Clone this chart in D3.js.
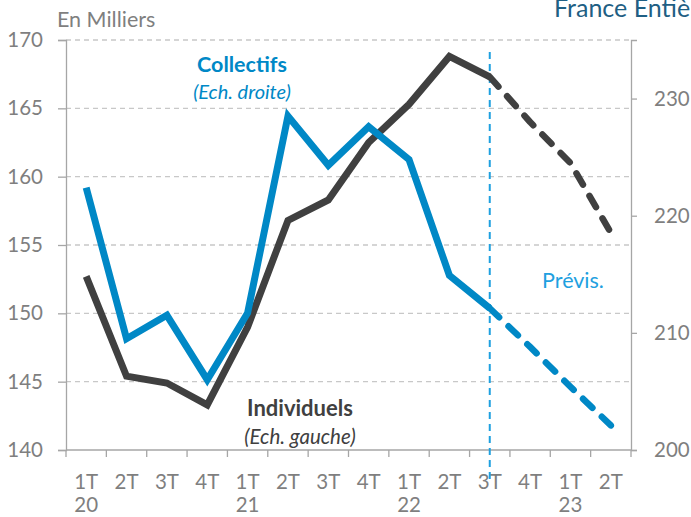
<!DOCTYPE html>
<html>
<head>
<meta charset="utf-8">
<script src="https://cdn.jsdelivr.net/npm/d3@7"></script>
<style>
  html, body { margin: 0; padding: 0; background: #fff; }
  svg { display: block; font-family: Lato, "Open Sans", sans-serif; }
</style>
</head>
<body>
<svg id="chart" width="691" height="517"></svg>
<script>
// Quarterly starts (thousands): individual houses (left scale) and collective housing (right scale)
const quarters = ["1T", "2T", "3T", "4T", "1T", "2T", "3T", "4T", "1T", "2T", "3T", "4T", "1T", "2T"];
const years = ["20", "", "", "", "21", "", "", "", "22", "", "", "", "23", ""];
const individuels = [152.7, 145.4, 144.9, 143.3, 149.0, 156.8, 158.3, 162.5, 165.3, 168.8, 167.3, 164.0, 161.0, 155.9];
const collectifs = [222.4, 209.5, 211.5, 206.0, 211.7, 228.5, 224.3, 227.6, 224.8, 214.9, 212.1, 208.8, 205.4, 202.1];
const lastActual = 10; // index of 3T 22: forecasts follow
const leftTicks = [140, 145, 150, 155, 160, 165, 170];
const rightTicks = [200, 210, 220, 230];

const svg = d3.select("#chart");
const plotL = 66, plotR = 631, plotT = 40, plotB = 450;
const gray = "#7f7f7f", axisGray = "#a6a6a6";
const dark = "#404040", blue = "#0088c6", light = "#1ea0e0";

const x = d3.scaleBand().domain(d3.range(quarters.length)).range([plotL, plotR]);
const yL = d3.scaleLinear().domain([140, 170]).range([plotB, plotT]);
const yR = d3.scaleLinear().domain([200, 235]).range([plotB, plotT]);
const cx = i => x(i) + x.bandwidth() / 2;

// horizontal gridlines from the left scale
svg.append("g").selectAll("line").data(leftTicks.filter(d => d > 140)).join("line")
  .attr("x1", plotL).attr("x2", plotR)
  .attr("y1", d => yL(d)).attr("y2", d => yL(d))
  .attr("stroke", "#c8c8c8").attr("stroke-width", 1.3).attr("stroke-dasharray", "5,4");

// left axis
const gL = svg.append("g").attr("transform", `translate(${plotL},0)`)
  .call(d3.axisLeft(yL).tickValues(leftTicks).tickSize(8).tickPadding(15));
gL.select(".domain").attr("stroke", axisGray).attr("stroke-width", 1.3);
gL.selectAll(".tick line").attr("stroke", axisGray).attr("stroke-width", 1.3);
gL.selectAll("text").attr("fill", gray).attr("font-size", 20.5).attr("font-family", "Lato, sans-serif");

// right axis
const gR = svg.append("g").attr("transform", `translate(${plotR},0)`)
  .call(d3.axisRight(yR).tickValues(rightTicks).tickSize(6).tickPadding(17));
gR.select(".domain").attr("stroke", axisGray).attr("stroke-width", 1.3);
gR.selectAll(".tick line").attr("stroke", axisGray).attr("stroke-width", 1.3);
gR.selectAll("text").attr("fill", gray).attr("font-size", 20.5).attr("font-family", "Lato, sans-serif");

// bottom category axis: ticks between categories
const gB = svg.append("g").attr("transform", `translate(0,${plotB})`);
gB.append("line").attr("x1", plotL).attr("x2", plotR).attr("stroke", axisGray).attr("stroke-width", 1.3);
gB.selectAll("line.tk").data(d3.range(quarters.length + 1)).join("line").attr("class", "tk")
  .attr("x1", i => plotL + i * x.step()).attr("x2", i => plotL + i * x.step())
  .attr("y1", 0).attr("y2", 7).attr("stroke", axisGray).attr("stroke-width", 1.3);
gB.selectAll("text.q").data(quarters).join("text").attr("class", "q")
  .attr("x", (d, i) => cx(i)).attr("y", 39)
  .attr("text-anchor", "middle").attr("fill", gray).attr("font-size", 20.5).text(d => d);
gB.selectAll("text.yr").data(years).join("text").attr("class", "yr")
  .attr("x", (d, i) => cx(i)).attr("y", 62)
  .attr("text-anchor", "middle").attr("fill", gray).attr("font-size", 20.5).text(d => d);

// forecast separator
svg.append("line")
  .attr("x1", cx(lastActual)).attr("x2", cx(lastActual))
  .attr("y1", 52).attr("y2", 480)
  .attr("stroke", light).attr("stroke-width", 2).attr("stroke-dasharray", "7,5");

// series lines
function drawSeries(values, y, color) {
  const pts = values.map((v, i) => [cx(i), y(v)]);
  const line = d3.line();
  svg.append("path").attr("d", line(pts.slice(0, lastActual + 1)))
    .attr("fill", "none").attr("stroke", color).attr("stroke-width", 7)
    .attr("stroke-linejoin", "miter").attr("stroke-linecap", "butt");
  svg.append("path").attr("d", line(pts.slice(lastActual)))
    .attr("fill", "none").attr("stroke", color).attr("stroke-width", 6.5)
    .attr("stroke-linejoin", "round").attr("stroke-linecap", "round")
    .attr("stroke-dasharray", "13,13");
}
drawSeries(individuels, yL, dark);
drawSeries(collectifs, yR, blue);

// annotations
svg.append("text").attr("x", 242).attr("y", 72).attr("text-anchor", "middle")
  .attr("fill", blue).attr("font-size", 21.5).attr("font-weight", "bold").text("Collectifs");
svg.append("text").attr("x", 242).attr("y", 99).attr("text-anchor", "middle")
  .attr("fill", blue).attr("font-size", 20).attr("font-style", "italic").text("(Ech. droite)");
svg.append("text").attr("x", 300).attr("y", 416).attr("text-anchor", "middle")
  .attr("fill", dark).attr("font-size", 22).attr("font-weight", "bold").text("Individuels");
svg.append("text").attr("x", 300).attr("y", 444).attr("text-anchor", "middle")
  .attr("fill", dark).attr("font-size", 20.5).attr("font-style", "italic").text("(Ech. gauche)");
svg.append("text").attr("x", 573).attr("y", 288).attr("text-anchor", "middle")
  .attr("fill", light).attr("font-size", 21.5).text("Prévis.");
svg.append("text").attr("x", 57).attr("y", 27)
  .attr("fill", gray).attr("font-size", 21.5).text("En Milliers");
svg.append("text").attr("x", 554).attr("y", 17)
  .attr("fill", "#1f5f84").attr("font-size", 25).text("France Entière");
</script>
</body>
</html>
